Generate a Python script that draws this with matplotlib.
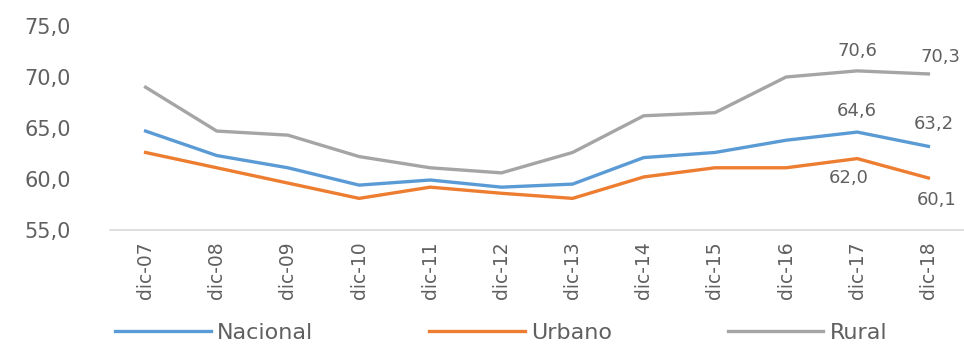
import numpy as np
import matplotlib
matplotlib.use('Agg')
import matplotlib.pyplot as plt

# series by December of each year
periodos = ['dic-07', 'dic-08', 'dic-09', 'dic-10', 'dic-11', 'dic-12',
            'dic-13', 'dic-14', 'dic-15', 'dic-16', 'dic-17', 'dic-18']
nacional = [64.7, 62.3, 61.1, 59.4, 59.9, 59.2, 59.5, 62.1, 62.6, 63.8, 64.6, 63.2]
urbano = [62.6, 61.1, 59.6, 58.1, 59.2, 58.6, 58.1, 60.2, 61.1, 61.1, 62.0, 60.1]
rural = [69.0, 64.7, 64.3, 62.2, 61.1, 60.6, 62.6, 66.2, 66.5, 70.0, 70.6, 70.3]
yticks = [55, 60, 65, 70, 75]

c_nac = '#5b9bd5'
c_urb = '#ed7d31'
c_rur = '#a5a5a5'
txt = '#606060'

plt.rcParams['font.family'] = ['DejaVu Sans']

fig = plt.figure(figsize=(9.64, 3.52), dpi=100)
ax = fig.add_axes([110/964, 122/352, 854/964, 204/352])

x = np.arange(len(periodos))
ax.plot(x, nacional, color=c_nac, lw=2.4, label='Nacional')
ax.plot(x, urbano, color=c_urb, lw=2.4, label='Urbano')
ax.plot(x, rural, color=c_rur, lw=2.4, label='Rural')

ax.set_xlim(-0.5, len(periodos) - 0.5)
ax.set_ylim(55, 75)
ax.set_yticks(yticks)
ax.set_yticklabels([('%.1f' % v).replace('.', ',') for v in yticks], color=txt, fontsize=15)
ax.set_xticks(x)
ax.set_xticklabels(periodos, rotation=90, color=txt, fontsize=13.5)
ax.tick_params(axis='y', length=0, pad=28)
ax.tick_params(axis='x', length=0, pad=8)

for s in ['top', 'right', 'left']:
    ax.spines[s].set_visible(False)
ax.spines['bottom'].set_color('#d9d9d9')
ax.spines['bottom'].set_linewidth(1.2)

# value labels for the last two years
def lab(i, v, dx, dy):
    ax.annotate(('%.1f' % v).replace('.', ','), (i, v), xytext=(dx, dy),
                textcoords='offset points', ha='center', va='center',
                color=txt, fontsize=13, annotation_clip=False)

lab(10, rural[10], 0, 14)
lab(11, rural[11], 9, 12)
lab(10, nacional[10], 0, 15)
lab(11, nacional[11], 4, 16)
lab(10, urbano[10], -6, -14)
lab(11, urbano[11], 6, -16)

fig.legend(loc='lower center', ncol=3, frameon=False, fontsize=16,
           handlelength=4.3, columnspacing=5.2, handletextpad=0.3,
           labelcolor=txt, bbox_to_anchor=(0.52, -0.03))

fig.savefig('out.png', dpi=100)
